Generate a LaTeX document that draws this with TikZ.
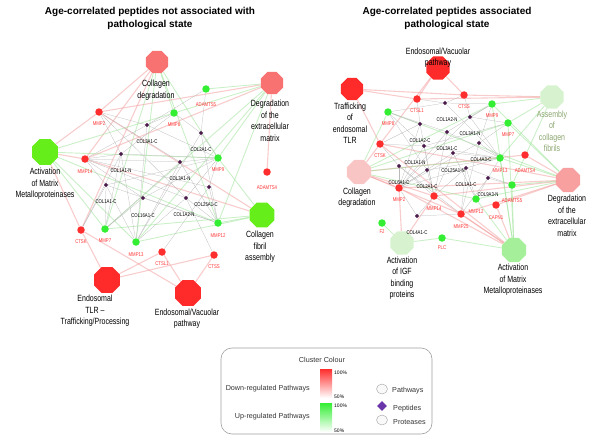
\documentclass[tikz,border=0pt]{standalone}
\usepackage{fontspec}
\setmainfont{Liberation Sans}
\newfontfamily\narrowfont[FakeStretch=0.78]{Liberation Sans}
\usetikzlibrary{shapes.geometric}

\definecolor{pathred}{HTML}{FF2B2B}
\definecolor{pathcoral}{HTML}{F87272}
\definecolor{pathgreen}{HTML}{66EE1A}
\definecolor{pathpink}{HTML}{F9C4C4}
\definecolor{pathrose}{HTML}{F8A0A0}
\definecolor{pathpale}{HTML}{D6F2CE}
\definecolor{pathlight}{HTML}{A6EF9A}
\definecolor{protred}{HTML}{FF2E2E}
\definecolor{protgreen}{HTML}{33EE33}
\definecolor{pepcol}{HTML}{4A1A4A}
\definecolor{lblred}{HTML}{FF3333}
\definecolor{fibriltext}{HTML}{8BA56F}
\definecolor{linkred}{HTML}{F29A9A}
\definecolor{linkgreen}{HTML}{9FE39A}
\definecolor{legendgrey}{HTML}{A0A0A0}
\definecolor{legendpurple}{HTML}{6A35A8}

\pgfdeclarelayer{bg}
\pgfsetlayers{bg,main}

\tikzset{
  pathway/.style={regular polygon, regular polygon sides=8, inner sep=0pt, draw=none},
  pathtext/.style={font=\narrowfont\fontsize{9}{11.5}\selectfont, align=center, inner sep=0pt},
  protease/.style={circle, inner sep=0pt, minimum size=7.5pt},
  protlbl/.style={font=\narrowfont\fontsize{5.5}{6}\selectfont, text=lblred, inner sep=0.3pt},
  peptide/.style={diamond, fill=pepcol, inner sep=0pt, minimum size=4.5pt},
  peplbl/.style={font=\narrowfont\fontsize{5.5}{6}\selectfont, text=black, inner sep=0.3pt},
  redlink/.style={draw=linkred, line width=1.1pt, opacity=0.5},
  greenlink/.style={draw=linkgreen, line width=0.9pt, opacity=0.55},
  greylink/.style={draw=gray!55, line width=0.25pt},
  legtext/.style={font=\fontsize{7.2}{8}\selectfont, text=black!80, inner sep=0pt},
}

\begin{document}
\begin{tikzpicture}[x=1pt, y=-1pt, label distance=0.6pt]
  \useasboundingbox (0,0) rectangle (600,444);

  % titles
  \node[font=\bfseries\fontsize{10}{13}\selectfont, align=center] (ltitle) at (150,18.5)
    {Age-correlated peptides not associated with\\pathological state};
  \node[font=\bfseries\fontsize{10}{13}\selectfont, align=center] (rtitle) at (447,18.5)
    {Age-correlated peptides associated\\pathological state};

  % ---- left network: pathways
  \node[pathway, fill=pathcoral, minimum size=24pt] (lCD) at (157,62) {};
  \node[pathway, fill=pathcoral, minimum size=24pt] (lDEM) at (272,83) {};
  \node[pathway, fill=pathgreen, minimum size=28pt] (lAMM) at (45,152) {};
  \node[pathway, fill=pathgreen, minimum size=27pt] (lCFA) at (262,215) {};
  \node[pathway, fill=pathred, minimum size=28pt] (lTLR) at (107,280) {};
  \node[pathway, fill=pathred, minimum size=28pt] (lEVP) at (188,293) {};

  \node[pathtext] (lCDtxt) at (156,90) {Collagen\\degradation};
  \node[pathtext] (lDEMtxt) at (270,121) {Degradation\\of the\\extracellular\\matrix};
  \node[pathtext] (lAMMtxt) at (45,184) {Activation\\of Matrix\\Metalloproteinases};
  \node[pathtext] (lCFAtxt) at (260,247) {Collagen\\fibril\\assembly};
  \node[pathtext] (lTLRtxt) at (95,311) {Endosomal\\TLR –\\Trafficking/Processing};
  \node[pathtext] (lEVPtxt) at (187,318.5) {Endosomal/Vacuolar\\pathway};

  % ---- left network: proteases
  \begin{scope}[every node/.style={protease}]
    \node[fill=protred, label={[protlbl]below:MMP2}] (lMMP2) at (99,112) {};
    \node[fill=protred, label={[protlbl]below:MMP14}] (lMMP14) at (85,159) {};
    \node[fill=protgreen, label={[protlbl]below:MMP8}] (lMMP8) at (174,113) {};
    \node[fill=protgreen, label={[protlbl]below:ADAMTS5}] (lADAMTS5) at (206,89) {};
    \node[fill=protgreen, label={[protlbl]below:MMP9}] (lMMP9) at (218,158) {};
    \node[fill=protred, label={[protlbl]below:ADAMTS4}] (lADAMTS4) at (267,172) {};
    \node[fill=protred, label={[protlbl]below:CTSK}] (lCTSK) at (81,230) {};
    \node[fill=protgreen, label={[protlbl]below:MMP7}] (lMMP7) at (105,229) {};
    \node[fill=protgreen, label={[protlbl]below:MMP13}] (lMMP13) at (136,242) {};
    \node[fill=protred, label={[protlbl]below:CTSL1}] (lCTSL1) at (162,252) {};
    \node[fill=protgreen, label={[protlbl]below:MMP12}] (lMMP12) at (218,223) {};
    \node[fill=protred, label={[protlbl]below:CTSS}] (lCTSS) at (214,255) {};
  \end{scope}

  % ---- left network: peptides
  \begin{scope}[every node/.style={peptide}]
    \node[label={[peplbl]below:COL3A1-C}] (lCOL3A1C) at (147,125) {};
    \node[label={[peplbl]below:COL1A1-N}] (lCOL1A1N) at (121,154) {};
    \node[label={[peplbl]below:COL2A1-C}] (lCOL2A1C) at (201,133) {};
    \node[label={[peplbl]below:COL3A1-N}] (lCOL3A1N) at (180,162) {};
    \node[label={[peplbl]below:COL1A1-C}] (lCOL1A1C) at (106,185) {};
    \node[label={[peplbl]below:COL16A1-C}] (lCOL16A1C) at (143,198) {};
    \node[label={[peplbl,xshift=-3pt]below:COL25A1-C}] (lCOL25A1C) at (209,187) {};
    \node[label={[peplbl,xshift=-2pt]below:COL1A2-N}] (lCOL1A2N) at (186,198) {};
  \end{scope}

  % ---- right network: pathways
  \node[pathway, fill=pathred, minimum size=25pt] (rEVP) at (438,68) {};
  \node[pathway, fill=pathred, minimum size=24pt] (rTRF) at (352,89) {};
  \node[pathway, fill=pathpale, minimum size=25pt] (rACF) at (552,97) {};
  \node[pathway, fill=pathrose, minimum size=26pt] (rDEM) at (568,180) {};
  \node[pathway, fill=pathpink, minimum size=26pt] (rCD) at (359,172) {};
  \node[pathway, fill=pathpale, minimum size=25pt] (rIGF) at (402,243) {};
  \node[pathway, fill=pathlight, minimum size=26pt] (rAMM) at (514,250) {};

  \node[pathtext] (rEVPtxt) at (438,57.5) {Endosomal/Vacuolar\\pathway};
  \node[pathtext] (rTRFtxt) at (350,123) {Trafficking\\of\\endosomal\\TLR};
  \node[pathtext, text=fibriltext] (rACFtxt) at (552,131.5) {Assembly\\of\\collagen\\fibrils};
  \node[pathtext] (rDEMtxt) at (567,216) {Degradation\\of the\\extracellular\\matrix};
  \node[pathtext] (rCDtxt) at (357,197.5) {Collagen\\degradation};
  \node[pathtext] (rIGFtxt) at (402,278) {Activation\\of IGF\\binding\\proteins};
  \node[pathtext] (rAMMtxt) at (513,280) {Activation\\of Matrix\\Metalloproteinases};

  % ---- right network: proteases
  \begin{scope}[every node/.style={protease}]
    \node[fill=protred, label={[protlbl]below:CTSL1}] (rCTSL1) at (417,99) {};
    \node[fill=protred, label={[protlbl]below:CTSS}] (rCTSS) at (464,95) {};
    \node[fill=protgreen, label={[protlbl]below:MMP9}] (rMMP9) at (492,104) {};
    \node[fill=protgreen, label={[protlbl]below:MMP7}] (rMMP7) at (508,123) {};
    \node[fill=protred, label={[protlbl]below:ADAMTS4}] (rADAMTS4) at (525,155) {};
    \node[fill=protgreen, label={[protlbl]below:MMP13}] (rMMP13) at (500,158) {};
    \node[fill=protgreen, label={[protlbl]below:MMP8}] (rMMP8) at (388,112) {};
    \node[fill=protred, label={[protlbl]below:CTSK}] (rCTSK) at (380,144) {};
    \node[fill=protgreen, label={[protlbl]below:ADAMTS5}] (rADAMTS5) at (512,185) {};
    \node[fill=protgreen, label={[protlbl]below:MMP12}] (rMMP12) at (476,199) {};
    \node[fill=protred, label={[protlbl]below:CAPN1}] (rCAPN1) at (496,205) {};
    \node[fill=protred, label={[protlbl]below:MMP25}] (rMMP25) at (461,214) {};
    \node[fill=protred, label={[protlbl]below:MMP2}] (rMMP2) at (399,188) {};
    \node[fill=protred, label={[protlbl]below:MMP14}] (rMMP14) at (434,196) {};
    \node[fill=protgreen, label={[protlbl]below:F2}] (rF2) at (382,223) {};
    \node[fill=protgreen, label={[protlbl]below:PLC}] (rPLC) at (442,238) {};
  \end{scope}

  % ---- right network: peptides
  \begin{scope}[every node/.style={peptide}]
    \node[label={[peplbl,xshift=2pt]below:COL1A2-N}] (rCOL1A2N) at (445,103) {};
    \node[label={[peplbl]below:COL1A2-C}] (rCOL1A2C) at (420,124) {};
    \node[label={[peplbl]below:COL3A1-N}] (rCOL3A1N) at (470,117) {};
    \node[label={[peplbl]below:COL3A1-C}] (rCOL3A1C) at (447,132) {};
    \node[label={[peplbl,xshift=-9pt]below:COL1A1-N}] (rCOL1A1N) at (424,146) {};
    \node[label={[peplbl,xshift=2pt]below:COL4A3-C}] (rCOL4A3C) at (479,143) {};
    \node[label={[peplbl]below:COL25A1-N}] (rCOL25A1N) at (453,153) {};
    \node[label={[peplbl]below:COL6A1-C}] (rCOL6A1C) at (399,166) {};
    \node[label={[peplbl]below:COL2A1-C}] (rCOL2A1C) at (427,170) {};
    \node[label={[peplbl]below:COL1A1-C}] (rCOL1A1C) at (466,168) {};
    \node[label={[peplbl]below:COL9A3-N}] (rCOL9A3N) at (488,178) {};
    \node[label={[peplbl]below:COL4A1-C}] (rCOL4A1C) at (417,216) {};
  \end{scope}

  % ---- links, behind the nodes
  \begin{pgfonlayer}{bg}
    % left: pathway - protease
    \foreach \q in {lMMP2,lMMP14,lCTSK} \path (lCD) edge[redlink] (\q);
    \foreach \q in {lMMP8,lMMP9,lMMP13,lMMP7,lMMP12} \path (lCD) edge[greenlink] (\q);
    \foreach \q in {lMMP2,lMMP14,lADAMTS4} \path (lDEM) edge[redlink] (\q);
    \foreach \q in {lADAMTS5,lMMP8,lMMP9,lMMP12,lMMP13,lMMP7} \path (lDEM) edge[greenlink] (\q);
    \foreach \q in {lMMP2,lMMP14,lCTSK} \path (lAMM) edge[redlink] (\q);
    \foreach \q in {lMMP7,lMMP13,lMMP9,lMMP8,lMMP12} \path (lAMM) edge[greenlink] (\q);
    \foreach \q in {lMMP14,lMMP2} \path (lCFA) edge[redlink] (\q);
    \foreach \q in {lMMP9,lMMP12,lMMP13,lMMP7} \path (lCFA) edge[greenlink] (\q);
    \foreach \q in {lCTSK,lCTSL1,lCTSS} \path (lTLR) edge[redlink] (\q);
    \foreach \q in {lCTSL1,lCTSS,lCTSK} \path (lEVP) edge[redlink] (\q);
    % left: peptide - protease
    \foreach \p/\q in {lCOL3A1C/lMMP2,lCOL3A1C/lMMP8,lCOL3A1C/lMMP9,lCOL3A1C/lMMP14,lCOL3A1C/lMMP13,lCOL3A1C/lADAMTS5,
                       lCOL1A1N/lMMP2,lCOL1A1N/lMMP14,lCOL1A1N/lMMP9,lCOL1A1N/lMMP8,lCOL1A1N/lMMP7,lCOL1A1N/lMMP13,lCOL1A1N/lCTSK,
                       lCOL2A1C/lMMP8,lCOL2A1C/lMMP9,lCOL2A1C/lADAMTS5,lCOL2A1C/lMMP12,lCOL2A1C/lMMP13,
                       lCOL3A1N/lMMP14,lCOL3A1N/lMMP9,lCOL3A1N/lMMP7,lCOL3A1N/lMMP12,lCOL3A1N/lMMP13,lCOL3A1N/lMMP2,
                       lCOL1A1C/lMMP14,lCOL1A1C/lCTSK,lCOL1A1C/lMMP7,lCOL1A1C/lMMP9,lCOL1A1C/lMMP12,lCOL1A1C/lMMP13,
                       lCOL16A1C/lMMP14,lCOL16A1C/lMMP9,lCOL16A1C/lMMP12,lCOL16A1C/lMMP7,
                       lCOL25A1C/lMMP9,lCOL25A1C/lMMP12,lCOL25A1C/lCTSL1,lCOL25A1C/lMMP14,
                       lCOL1A2N/lMMP12,lCOL1A2N/lMMP14,lCOL1A2N/lMMP13,lCOL1A2N/lCTSS,lCOL1A2N/lMMP9,lCOL1A2N/lMMP2}
      \path (\p) edge[greylink] (\q);

    % right: pathway - protease
    \foreach \q in {rCTSL1,rCTSS,rCTSK} \path (rEVP) edge[redlink] (\q);
    \foreach \q in {rCTSL1,rCTSS,rCTSK} \path (rTRF) edge[redlink] (\q);
    \foreach \q in {rCTSS,rCTSL1} \path (rACF) edge[redlink] (\q);
    \foreach \q in {rMMP9,rMMP7,rMMP13,rADAMTS5} \path (rACF) edge[greenlink] (\q);
    \foreach \q in {rMMP2,rMMP14,rMMP25,rADAMTS4,rCAPN1,rCTSK} \path (rDEM) edge[redlink] (\q);
    \foreach \q in {rADAMTS5,rMMP13,rMMP7,rMMP9,rMMP12,rMMP8} \path (rDEM) edge[greenlink] (\q);
    \foreach \q in {rCTSK,rMMP2,rMMP14,rMMP25,rADAMTS4} \path (rCD) edge[redlink] (\q);
    \foreach \q in {rMMP8,rMMP13,rMMP9,rMMP12,rMMP7} \path (rCD) edge[greenlink] (\q);
    \foreach \q in {rMMP2,rMMP14} \path (rIGF) edge[redlink] (\q);
    \foreach \q in {rF2,rPLC} \path (rIGF) edge[greenlink] (\q);
    \foreach \q in {rMMP2,rMMP14,rMMP25,rCAPN1,rCTSK} \path (rAMM) edge[redlink] (\q);
    \foreach \q in {rPLC,rMMP12,rMMP7,rMMP13,rADAMTS5,rMMP9} \path (rAMM) edge[greenlink] (\q);
    % right: peptide - protease
    \foreach \p/\q in {rCOL1A2N/rCTSL1,rCOL1A2N/rCTSS,rCOL1A2N/rMMP9,rCOL1A2N/rMMP8,rCOL1A2N/rMMP13,
                       rCOL1A2C/rMMP8,rCOL1A2C/rCTSK,rCOL1A2C/rCTSL1,rCOL1A2C/rMMP2,rCOL1A2C/rMMP14,
                       rCOL3A1N/rCTSS,rCOL3A1N/rMMP9,rCOL3A1N/rMMP7,rCOL3A1N/rMMP13,rCOL3A1N/rMMP2,
                       rCOL3A1C/rMMP8,rCOL3A1C/rMMP9,rCOL3A1C/rMMP14,rCOL3A1C/rMMP13,rCOL3A1C/rMMP2,
                       rCOL1A1N/rCTSK,rCOL1A1N/rMMP8,rCOL1A1N/rMMP2,rCOL1A1N/rMMP14,rCOL1A1N/rMMP13,rCOL1A1N/rMMP7,
                       rCOL4A3C/rMMP9,rCOL4A3C/rMMP7,rCOL4A3C/rMMP13,rCOL4A3C/rMMP2,rCOL4A3C/rMMP25,
                       rCOL25A1N/rMMP13,rCOL25A1N/rMMP14,rCOL25A1N/rMMP2,rCOL25A1N/rMMP12,
                       rCOL6A1C/rCTSK,rCOL6A1C/rMMP2,rCOL6A1C/rMMP14,rCOL6A1C/rMMP25,
                       rCOL2A1C/rMMP2,rCOL2A1C/rMMP14,rCOL2A1C/rMMP13,rCOL2A1C/rMMP8,
                       rCOL1A1C/rMMP14,rCOL1A1C/rMMP13,rCOL1A1C/rMMP12,rCOL1A1C/rMMP25,rCOL1A1C/rMMP2,rCOL1A1C/rADAMTS5,
                       rCOL9A3N/rMMP13,rCOL9A3N/rADAMTS5,rCOL9A3N/rMMP12,rCOL9A3N/rMMP25,
                       rCOL4A1C/rMMP2,rCOL4A1C/rMMP14,rCOL4A1C/rMMP25}
      \path (\p) edge[greylink] (\q);
  \end{pgfonlayer}

  % ---- legend
  \node[draw=legendgrey, line width=0.6pt, rounded corners=11pt, minimum width=211pt, minimum height=86pt] (legend) at (326.5,391) {};
  \node[legtext] (legtitle) at (322,360) {Cluster Colour};
  \node[inner sep=0pt, minimum width=12pt, minimum height=29pt, top color=protred, bottom color=white] (downbar) at (326,383.5) {};
  \node[inner sep=0pt, minimum width=12pt, minimum height=29pt, top color=protgreen, bottom color=white] (upbar) at (326,417.5) {};
  \begin{scope}[every node/.style={font=\fontsize{5}{6}\selectfont, inner sep=0pt, anchor=west}]
    \node (dtop) at (334,373) {100\%};
    \node (dbot) at (334,397) {50\%};
    \node (utop) at (334,406) {100\%};
    \node (ubot) at (334,431) {50\%};
  \end{scope}
  \node[legtext, anchor=east] (downtxt) at (310,389) {Down-regulated Pathways};
  \node[legtext, anchor=east] (uptxt) at (310,417) {Up-regulated Pathways};
  \node[ellipse, draw=legendgrey, fill=gray!5, minimum width=11pt, minimum height=10pt, inner sep=0pt] (legpath) at (382,389) {};
  \node[diamond, fill=legendpurple, minimum size=10pt, inner sep=0pt] (legpep) at (382,406) {};
  \node[ellipse, draw=legendgrey, fill=gray!5, minimum width=11pt, minimum height=10pt, inner sep=0pt] (legprot) at (382,420) {};
  \node[legtext, anchor=west] (legpathtxt) at (392,391) {Pathways};
  \node[legtext, anchor=west] (legpeptxt) at (393,409) {Peptides};
  \node[legtext, anchor=west] (legprottxt) at (393,422) {Proteases};
\end{tikzpicture}
\end{document}
